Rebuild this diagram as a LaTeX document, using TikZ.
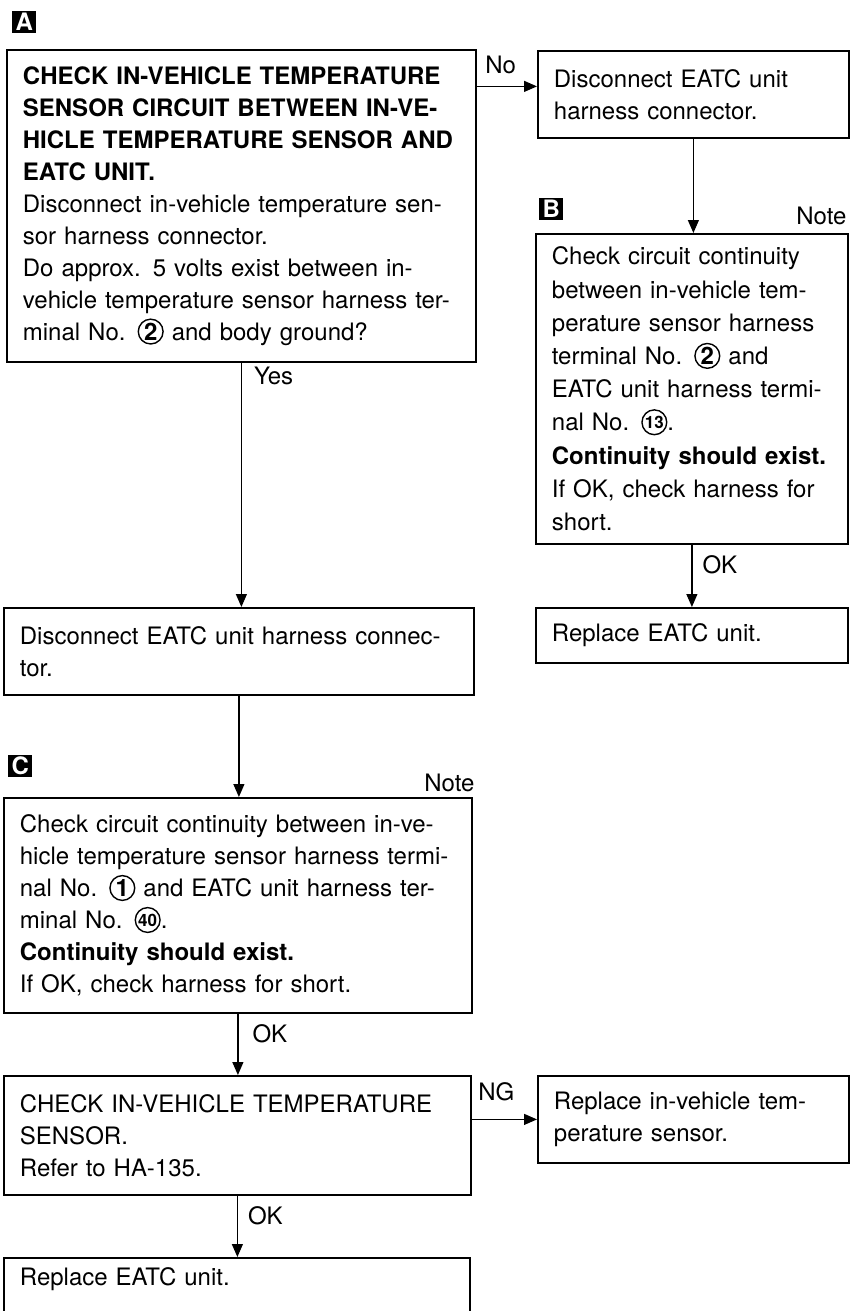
\documentclass[tikz,border=0pt]{standalone}
\usepackage{fontspec}
\setmainfont{TeX Gyre Heros}
\usetikzlibrary{arrows.meta,positioning}
% circled terminal number, optional font for two digits
\newcommand{\termno}[2][\bfseries]{\tikz[baseline=-4.3pt]{%
  \draw[line width=0.7pt] (0pt,0pt) circle[radius=6.2pt];
  \node[inner sep=0pt,minimum size=0pt,text width=,align=none,text height=,
    text depth=,draw=none,anchor=center,font=#1] at (0pt,0pt) {#2};}}

\begin{document}
\begin{tikzpicture}[
 x=0.5pt,y=-0.5pt,
 >={Triangle[length=6.5pt,width=5.5pt]},
 font=\fontsize{12}{16}\selectfont,
 box/.style={draw,line width=0.9pt,anchor=north west,align=left,
   inner xsep=8pt,inner ysep=0pt},
 flow/.style={->,line width=0.6pt},
 tag/.style={fill=black,text=white,inner sep=0pt,minimum width=12pt,
   minimum height=11pt,font=\fontsize{12}{12}\selectfont\bfseries},
 lbl/.style={inner sep=1pt}
]
\useasboundingbox (0,0) rectangle (858,1311);

% right-hand branch
\node[box,text width=218.5pt,minimum height=156pt] (checkA) at (6,49) {
 \textbf{CHECK IN-VEHICLE TEMPERATURE}\\
 \textbf{SENSOR CIRCUIT BETWEEN IN-VE-}\\
 \textbf{HICLE TEMPERATURE SENSOR AND}\\
 \textbf{EATC UNIT.}\\
 Disconnect in-vehicle temperature sen-\\
 sor harness connector.\\
 Do approx. 5 volts exist between in-\\
 vehicle temperature sensor harness ter-\\
 minal No. \termno{2} and body ground?};
\node[tag,above right=8pt and 3pt of checkA.north west] (tagA) {A};

\node[box,text width=139.5pt,minimum height=43.5pt] (eatcOffB) at (537,50) {
 Disconnect EATC unit\\
 harness connector.};
\node[box,text width=140pt,minimum height=155pt,
  font=\fontsize{12}{16.6}\selectfont] (contB) at (535,233) {
 Check circuit continuity\\
 between in-vehicle tem-\\
 perature sensor harness\\
 terminal No. \termno{2} and\\
 EATC unit harness termi-\\
 nal No. \termno[\bfseries\fontsize{8.5}{8.5}\selectfont]{13}.\\
 \textbf{Continuity should exist.}\\
 If OK, check harness for\\
 short.};
\node[tag,above right=6.5pt and 2pt of contB.north west] (tagB) {B};
\node[lbl,above left=3pt and 0pt of contB.north east] (noteB) {Note};
\node[box,text width=140pt,minimum height=27.5pt] (replB) at (535,607) {
 Replace EATC unit.};

\coordinate (noIn) at ([yshift=4pt]eatcOffB.west);
\draw[flow] (checkA.east |- noIn) -- node[lbl,pos=0,above right=5pt and 3pt]{No} (noIn);
\draw[flow] (eatcOffB.south) -- (eatcOffB.south |- contB.north);
\draw[flow] (contB.south) -- node[lbl,pos=0,below right=4pt and 4pt]{OK} (contB.south |- replB.north);

% left-hand branch
\node[box,text width=219pt,minimum height=43.5pt] (eatcOffC) at (3,607) {
 Disconnect EATC unit harness connec-\\
 tor.};
\node[box,text width=218pt,minimum height=107.5pt] (contC) at (3,797) {
 Check circuit continuity between in-ve-\\
 hicle temperature sensor harness termi-\\
 nal No. \termno{1} and EATC unit harness ter-\\
 minal No. \termno[\bfseries\fontsize{8.5}{8.5}\selectfont]{40}.\\
 \textbf{Continuity should exist.}\\
 If OK, check harness for short.};
\node[tag,above right=10pt and 2.5pt of contC.north west] (tagC) {C};
\node[lbl,above left=1.5pt and -2pt of contC.north east] (noteC) {Note};
\node[box,text width=217.5pt,minimum height=59.5pt] (checkSensor) at (3,1075) {
 CHECK IN-VEHICLE TEMPERATURE\\
 SENSOR.\\
 Refer to HA-135.};
\node[box,text width=139.5pt,minimum height=43.5pt] (replSensor) at (537,1075) {
 Replace in-vehicle tem-\\
 perature sensor.};
\node[box,text width=217pt,inner ysep=5pt,text depth=30pt] (replC) at (3,1257) {
 Replace EATC unit.};

\draw[flow] (checkA.south) -- node[lbl,pos=0,below right=1pt and 5pt]{Yes} (checkA.south |- eatcOffC.north);
\draw[flow] (eatcOffC.south) -- (eatcOffC.south |- contC.north);
\draw[flow] (contC.south) -- node[lbl,pos=0,below right=4pt and 6pt]{OK} (contC.south |- checkSensor.north);
\draw[flow] (checkSensor.east |- replSensor.west) -- node[lbl,pos=0,above right=8pt and 2pt]{NG} (replSensor.west);
\draw[flow] (checkSensor.south) -- node[lbl,pos=0,below right=4pt and 4pt]{OK} (checkSensor.south |- replC.north);
\end{tikzpicture}
\end{document}
